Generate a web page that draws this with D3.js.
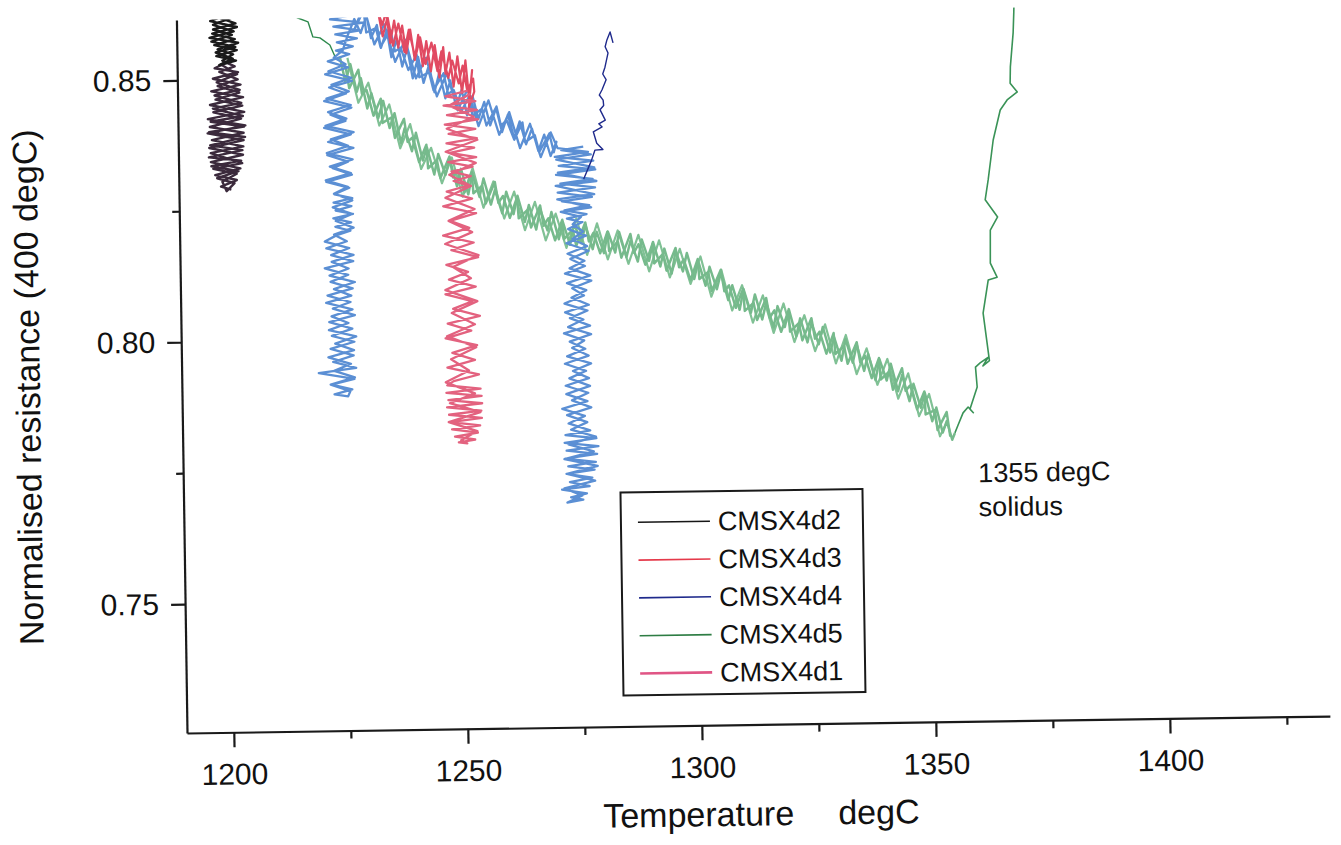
<!DOCTYPE html>
<html>
<head>
<meta charset="utf-8">
<script src="https://cdn.jsdelivr.net/npm/d3@7"></script>
<style>
body { margin: 0; background: #fff; }
svg text { font-family: "Liberation Sans", Arial, sans-serif; fill: #111; }
</style>
</head>
<body>
<script>
// Normalised resistance vs temperature, CMSX4 samples (scanned figure, read by eye)
// points are [temperature degC, normalised resistance]

// CMSX4d2 - hold near 1200
var d2Top = [[1197.5,0.8650],[1202.5,0.8630],[1197.2,0.8612],[1202.9,0.8600],[1197.6,0.8588],[1202.4,0.8577],
  [1198.0,0.8566],[1202.8,0.8556],[1198.4,0.8545],[1202.6,0.8536],[1199.0,0.8528],[1201.9,0.8540],[1198.3,0.8552],
  [1202.5,0.8562],[1197.4,0.8573],[1201.8,0.8585],[1197.8,0.8596],[1202.6,0.8607],[1198.6,0.8620],[1201.4,0.8632],
  [1201.8,0.8648],[1197.0,0.8638],[1203.0,0.8622],[1197.8,0.8605],[1202.2,0.8592],[1197.0,0.8580],[1203.1,0.8570],
  [1198.7,0.8558],[1202.0,0.8548],[1199.5,0.8535]];
var d2Body = [[1199.2,0.8530],[1202.8,0.8510],[1198.4,0.8495],[1203.3,0.8480],[1197.9,0.8470],[1203.6,0.8455],
  [1197.5,0.8445],[1203.9,0.8430],[1197.0,0.8420],[1204.1,0.8410],[1196.6,0.8400],[1204.3,0.8390],[1196.8,0.8375],
  [1203.7,0.8365],[1196.5,0.8352],[1203.4,0.8345],[1197.0,0.8335],[1202.8,0.8325],[1198.2,0.8312],[1201.9,0.8302],
  [1200.2,0.8287],[1199.3,0.8305],[1202.4,0.8320],[1197.4,0.8330],[1203.6,0.8340],[1196.9,0.8360],[1203.9,0.8372],
  [1197.2,0.8385],[1204.0,0.8398],[1196.8,0.8410],[1203.5,0.8425],[1197.6,0.8438],[1203.8,0.8450],[1198.1,0.8462],
  [1203.2,0.8475],[1198.6,0.8488],[1202.9,0.8500],[1199.0,0.8515],[1202.3,0.8525],[1200.0,0.8535],
  [1200.5,0.8532],[1198.0,0.8522],[1203.0,0.8514],[1197.6,0.8502],[1203.5,0.8490],[1197.2,0.8478],[1204.0,0.8466],
  [1196.9,0.8452],[1204.2,0.8438],[1196.4,0.8425],[1204.4,0.8412],[1196.3,0.8398],[1204.0,0.8384],[1196.6,0.8370],
  [1203.8,0.8356],[1196.9,0.8343],[1203.2,0.8330],[1197.8,0.8318],[1202.4,0.8308],[1199.0,0.8296],[1201.2,0.8290]];

// CMSX4d3 - heating branch into the 1250 hold
var d3Heat = [[1232.5,0.8640],[1234.0,0.8600],[1234.8,0.8625],[1235.6,0.8565],[1236.5,0.8608],[1237.3,0.8556],
  [1238.2,0.8598],[1239.0,0.8545],[1239.9,0.8590],[1240.8,0.8532],[1241.6,0.8580],[1242.5,0.8520],[1243.3,0.8568],
  [1244.2,0.8510],[1245.1,0.8560],[1246.0,0.8498],[1246.9,0.8556],[1247.3,0.8505],[1248.2,0.8545],[1249.0,0.8480],
  [1249.9,0.8538],[1250.8,0.8468],[1251.6,0.8530],[1252.3,0.8455],[1253.0,0.8511],[1252.2,0.8440],[1253.4,0.8470],
  [1253.2,0.8495],[1251.9,0.8472],[1251.0,0.8520],[1250.1,0.8486],[1248.8,0.8530],[1247.9,0.8497],[1246.5,0.8548],
  [1245.6,0.8510],[1244.4,0.8565],[1243.1,0.8524],[1242.0,0.8575],[1240.9,0.8536],[1239.6,0.8590],[1238.6,0.8548],
  [1237.4,0.8602],[1236.2,0.8560],[1235.1,0.8615],[1234.0,0.8578],[1233.0,0.8630]];

// CMSX4d1 - hold at 1250
var d1Hold = [[1252.0,0.8472],[1247.2,0.8462],[1253.6,0.8452],[1246.8,0.8444],[1253.9,0.8435],[1247.5,0.8426],
  [1254.1,0.8417],[1247.0,0.8408],[1253.5,0.8399],[1247.8,0.8390],[1253.8,0.8381],[1247.3,0.8372],[1253.2,0.8363],
  [1248.0,0.8354],[1253.6,0.8345],[1247.6,0.8336],[1252.8,0.8327],[1248.3,0.8318],[1252.4,0.8309],[1248.7,0.8300],
  [1251.8,0.8291],[1247.2,0.8280],[1252.6,0.8266],[1246.4,0.8252],[1253.4,0.8238],[1247.8,0.8224],[1251.9,0.8210],
  [1246.3,0.8196],[1252.8,0.8182],[1248.0,0.8168],[1253.7,0.8154],[1246.9,0.8140],[1251.5,0.8126],[1247.4,0.8112],
  [1253.1,0.8098],[1246.6,0.8084],[1252.3,0.8070],[1248.2,0.8056],[1253.9,0.8042],[1247.0,0.8028],[1252.0,0.8014],
  [1246.5,0.8000],[1253.2,0.7986],[1247.9,0.7972],[1252.7,0.7958],[1246.8,0.7944],[1253.5,0.7930],[1248.1,0.7918],
  [1246.7,0.7910],[1253.8,0.7903],[1246.5,0.7896],[1254.0,0.7889],[1246.9,0.7882],[1254.1,0.7875],[1246.6,0.7868],
  [1253.9,0.7861],[1247.0,0.7854],[1254.0,0.7847],[1247.3,0.7840],[1253.6,0.7833],[1247.6,0.7826],[1253.1,0.7819],
  [1248.2,0.7812],[1252.5,0.7806],[1249.0,0.7801],[1250.8,0.7799],
  [1249.5,0.7805],[1253.0,0.7822],[1246.9,0.7840],[1253.7,0.7858],[1247.2,0.7876],[1252.6,0.7894],[1246.4,0.7916],
  [1251.4,0.7938],[1247.6,0.7960],[1253.0,0.7982],[1246.8,0.8004],[1252.8,0.8026],[1247.9,0.8048],[1253.4,0.8070],
  [1246.6,0.8092],[1252.1,0.8114],[1248.3,0.8136],[1253.8,0.8158],[1246.7,0.8180],[1252.5,0.8202],[1247.5,0.8224],
  [1253.1,0.8246],[1246.9,0.8268],[1252.4,0.8290],[1247.8,0.8312],[1253.5,0.8334],[1247.1,0.8356],[1253.9,0.8378],
  [1247.4,0.8400],[1253.2,0.8422],[1248.0,0.8444],[1252.6,0.8466]];

// CMSX4d4 - hold near 1224, heating, hold near 1275, final heating
var d4HoldA = [[1223.0,0.8640],[1230.5,0.8625],[1222.8,0.8612],[1230.0,0.8605],[1223.5,0.8598],[1229.2,0.8590],
  [1223.9,0.8583],[1228.5,0.8575],[1224.2,0.8568],[1227.6,0.8560],[1224.0,0.8552],[1226.8,0.8545],
  [1222.2,0.8532],[1226.5,0.8520],[1221.6,0.8507],[1227.3,0.8494],[1222.4,0.8482],[1226.0,0.8470],[1221.3,0.8456],
  [1227.1,0.8443],[1222.6,0.8430],[1225.8,0.8418],[1221.2,0.8405],[1226.9,0.8392],[1222.0,0.8378],[1227.4,0.8366],
  [1221.8,0.8353],[1226.2,0.8340],[1222.9,0.8328],[1227.0,0.8315],[1221.5,0.8302],[1226.4,0.8290],
  [1223.2,0.8278],[1227.0,0.8270],[1223.0,0.8262],[1226.8,0.8255],[1223.4,0.8247],[1227.1,0.8240],[1222.9,0.8232],
  [1226.7,0.8224],[1223.3,0.8216],[1226.5,0.8208],[1223.6,0.8200],
  [1221.0,0.8188],[1226.2,0.8175],[1222.3,0.8162],[1227.0,0.8150],[1220.9,0.8137],[1225.9,0.8124],[1222.1,0.8111],
  [1226.8,0.8098],[1221.4,0.8085],[1226.3,0.8072],[1222.5,0.8060],[1227.2,0.8047],[1221.7,0.8034],[1226.6,0.8021],
  [1222.2,0.8008],[1227.0,0.7996],[1221.9,0.7983],[1226.8,0.7970],[1222.4,0.7958],[1227.3,0.7946],[1219.3,0.7937],
  [1226.9,0.7925],[1222.0,0.7915],[1226.4,0.7905],[1222.6,0.7896],[1225.5,0.7892],
  [1226.0,0.7902],[1221.8,0.7915],[1227.0,0.7928],[1222.6,0.7941],[1226.2,0.7954],[1221.4,0.7967],[1226.9,0.7980],
  [1222.9,0.7993],[1227.4,0.8006],[1221.6,0.8019],[1225.8,0.8032],[1222.2,0.8045],[1226.7,0.8058],[1221.1,0.8071],
  [1226.5,0.8084],[1222.8,0.8097],[1227.3,0.8110],[1221.9,0.8123],[1226.0,0.8136],[1222.4,0.8149],[1227.1,0.8162],
  [1221.3,0.8175],[1225.7,0.8188],[1223.0,0.8201],[1227.2,0.8214],[1223.4,0.8227],[1226.9,0.8240],[1222.8,0.8253],
  [1227.0,0.8266],[1223.1,0.8279],[1226.1,0.8292],[1221.4,0.8305],[1226.8,0.8318],[1222.3,0.8331],[1227.2,0.8344],
  [1221.7,0.8357],[1226.3,0.8370],[1222.6,0.8383],[1227.5,0.8396],[1221.5,0.8409],[1226.0,0.8422],[1222.1,0.8435],
  [1227.0,0.8448],[1221.8,0.8461],[1226.6,0.8474],[1222.9,0.8487],[1227.2,0.8500],[1222.3,0.8513],[1226.0,0.8526],
  [1223.5,0.8539],[1225.4,0.8552]];
var d4Heat = [[1226.5,0.8580],[1228.0,0.8612],[1229.3,0.8585],[1230.6,0.8618],[1231.5,0.8575],[1232.8,0.8600],
  [1233.6,0.8556],[1234.9,0.8590],[1235.8,0.8538],[1237.0,0.8572],[1238.1,0.8520],[1239.2,0.8556],[1240.3,0.8497],
  [1241.5,0.8538],[1242.6,0.8488],[1243.8,0.8522],[1244.9,0.8470],[1246.0,0.8508],[1247.2,0.8458],[1248.3,0.8492],
  [1249.5,0.8440],[1250.7,0.8474],[1251.8,0.8425],[1253.0,0.8462],[1254.2,0.8418],[1255.5,0.8450],[1256.7,0.8405],
  [1258.0,0.8438],[1259.2,0.8392],[1260.5,0.8425],[1261.8,0.8380],[1263.0,0.8412],[1264.3,0.8368],[1265.6,0.8398],
  [1266.9,0.8355],[1268.2,0.8386],[1269.5,0.8345],[1270.8,0.8372],
  [1270.2,0.8352],[1269.3,0.8388],[1267.1,0.8353],[1266.2,0.8385],[1264.1,0.8372],[1263.6,0.8410],[1261.8,0.8377],
  [1260.2,0.8415],[1259.0,0.8404],[1258.1,0.8441],[1255.9,0.8405],[1255.0,0.8437],[1252.9,0.8424],[1252.4,0.8463],
  [1250.6,0.8433],[1249.0,0.8474],[1247.8,0.8466],[1246.9,0.8506],[1244.7,0.8474],[1243.8,0.8508],[1241.7,0.8499],
  [1241.2,0.8542],[1239.4,0.8513],[1237.8,0.8556],[1236.6,0.8549],[1235.7,0.8590],[1233.5,0.8558],[1232.6,0.8594],
  [1230.5,0.8586],[1230.0,0.8628],[1228.2,0.8596],
  [1228.0,0.8592],[1230.0,0.8637],[1232.2,0.8563],[1234.4,0.8601],[1236.6,0.8529],[1238.8,0.8571],[1241.0,0.8497],
  [1243.2,0.8536],[1245.4,0.8462],[1247.6,0.8506],[1249.8,0.8435],[1252.0,0.8475],[1254.2,0.8404],[1256.4,0.8453],
  [1258.6,0.8387],[1260.8,0.8430],[1263.0,0.8361],[1265.2,0.8407],[1267.4,0.8343],[1269.6,0.8390]];
var d4HoldB = [[1271.0,0.8360],[1277.5,0.8352],[1270.4,0.8343],[1278.6,0.8335],[1271.2,0.8326],[1279.0,0.8318],
  [1270.6,0.8309],[1278.4,0.8300],[1271.5,0.8292],[1278.9,0.8284],[1270.9,0.8275],[1278.2,0.8266],[1271.8,0.8258],
  [1277.6,0.8250],[1272.3,0.8241],[1277.0,0.8233],[1272.8,0.8225],[1276.1,0.8218],
  [1273.0,0.8205],[1276.8,0.8192],[1272.6,0.8178],[1277.3,0.8163],[1273.4,0.8148],[1276.5,0.8134],[1272.2,0.8120],
  [1277.8,0.8106],[1273.7,0.8092],[1276.2,0.8078],[1272.0,0.8063],[1276.9,0.8049],[1273.1,0.8035],[1277.4,0.8020],
  [1271.8,0.8006],[1276.1,0.7992],[1273.5,0.7978],[1277.0,0.7963],[1271.9,0.7948],[1276.4,0.7934],[1272.8,0.7920],
  [1277.2,0.7905],[1272.1,0.7890],[1276.6,0.7876],[1271.2,0.7862],[1276.0,0.7848],[1272.5,0.7834],[1277.1,0.7820],
  [1271.8,0.7812],[1278.4,0.7805],[1271.6,0.7797],[1278.8,0.7790],[1272.0,0.7782],[1278.5,0.7775],[1271.7,0.7767],
  [1278.2,0.7760],[1272.3,0.7752],[1277.9,0.7745],[1271.9,0.7738],[1277.4,0.7730],[1272.6,0.7722],[1276.8,0.7714],
  [1270.9,0.7708],[1276.2,0.7700],[1272.8,0.7693],[1275.4,0.7688],[1272.0,0.7683],
  [1275.2,0.7696],[1271.4,0.7710],[1278.0,0.7724],[1272.0,0.7738],[1278.6,0.7752],[1271.5,0.7766],[1277.8,0.7780],
  [1272.4,0.7794],[1278.3,0.7808],[1273.0,0.7822],[1276.5,0.7836],[1272.2,0.7850],[1277.4,0.7864],[1273.3,0.7878],
  [1276.8,0.7892],[1272.0,0.7906],[1277.0,0.7920],[1273.6,0.7934],[1277.5,0.7948],[1272.4,0.7962],[1276.3,0.7976],
  [1273.0,0.7990],[1277.6,0.8004],[1272.7,0.8018],[1276.0,0.8032],[1272.1,0.8046],[1277.2,0.8060],[1273.5,0.8074],
  [1276.7,0.8088],[1272.6,0.8102],[1277.6,0.8116],[1273.2,0.8130],[1276.4,0.8144],[1272.8,0.8158],[1277.0,0.8172],
  [1273.9,0.8186],[1276.2,0.8200],[1274.0,0.8214],[1275.8,0.8228],
  [1271.5,0.8238],[1278.0,0.8246],[1270.8,0.8262],[1278.7,0.8271],[1270.5,0.8288],[1279.2,0.8296],[1271.0,0.8313],
  [1278.8,0.8322],[1270.7,0.8338],[1278.1,0.8347],[1271.8,0.8356],[1276.5,0.8362]];
var d4Tail = [[1276.5,0.8300],[1278.2,0.8335],[1279.0,0.8355],[1280.7,0.8356],[1279.4,0.8368],[1278.7,0.8390],
  [1280.6,0.8399],[1279.9,0.8405],[1281.3,0.8412],[1280.2,0.8432],[1281.0,0.8440],[1280.9,0.8450],[1280.1,0.8460],
  [1280.7,0.8470],[1281.6,0.8489],[1280.9,0.8500],[1281.4,0.8513],[1282.1,0.8540],[1281.5,0.8552],[1281.9,0.8565],
  [1282.6,0.8580],[1283.2,0.8559]];

// CMSX4d5 - continuous heating to the solidus and beyond
var d5Start = [[1214.3,0.8628],[1215.8,0.8616],[1218.1,0.8608],[1219.1,0.8579],[1220.6,0.8577],[1222.7,0.8563],
  [1223.8,0.8540]];
var d5Band = [[1224.8,0.8540],[1225.9,0.8492],[1227.0,0.8526],[1228.3,0.8473],[1229.2,0.8499],[1230.5,0.8441],
  [1231.4,0.8470],[1232.8,0.8422],[1233.9,0.8455],[1235.2,0.8403],[1236.3,0.8431],[1237.6,0.8374],[1238.4,0.8402],
  [1239.9,0.8358],[1240.8,0.8393],[1242.2,0.8340],[1243.1,0.8365],[1244.6,0.8313],[1245.5,0.8352],[1247.0,0.8312],
  [1247.9,0.8343],[1249.4,0.8290],[1250.3,0.8323],[1251.8,0.8274],[1252.7,0.8313],[1254.2,0.8269],[1255.1,0.8304],
  [1256.6,0.8254],[1257.5,0.8282],[1259.0,0.8237],[1259.9,0.8278],[1261.4,0.8235],[1262.3,0.8270],[1263.8,0.8220],
  [1264.7,0.8252],[1266.2,0.8205],[1267.1,0.8244],[1268.6,0.8203],[1269.5,0.8238],[1271.0,0.8186],[1271.9,0.8219],
  [1273.4,0.8175],[1274.3,0.8216],[1275.8,0.8178],[1276.7,0.8213],[1278.2,0.8166],[1279.1,0.8199],[1280.6,0.8158],
  [1281.5,0.8199],[1283.0,0.8159],[1283.9,0.8198],[1285.4,0.8150],[1286.3,0.8181],[1287.8,0.8141],[1288.7,0.8183],
  [1290.2,0.8142],[1291.1,0.8178],[1292.6,0.8131],[1293.5,0.8165],[1295.0,0.8117],[1295.9,0.8160],[1297.4,0.8121],
  [1298.3,0.8156],[1299.8,0.8106],[1300.7,0.8140],[1302.2,0.8093],[1303.1,0.8129],[1304.6,0.8086],[1305.5,0.8117],
  [1307.0,0.8065],[1307.9,0.8093],[1309.4,0.8046],[1310.3,0.8085],[1311.8,0.8040],[1312.7,0.8075],[1314.2,0.8027],
  [1315.1,0.8059],[1316.6,0.8011],[1317.5,0.8052],[1319.0,0.8012],[1319.9,0.8046],[1321.4,0.7994],[1322.3,0.8028],
  [1323.8,0.7982],[1324.7,0.8019],[1326.2,0.7978],[1327.1,0.8011],[1328.6,0.7962],[1329.5,0.7991],[1331.0,0.7946],
  [1331.9,0.7987],[1333.4,0.7942],[1334.3,0.7976],[1335.8,0.7926],[1336.7,0.7958],[1338.2,0.7908],[1339.1,0.7948],
  [1340.6,0.7907],[1341.5,0.7939],[1343.0,0.7886],[1343.9,0.7917],[1345.4,0.7867],[1346.3,0.7900],[1347.8,0.7854],
  [1348.7,0.7882],[1350.2,0.7828],[1351.1,0.7854],[1352.4,0.7806],[1353.3,0.7828],[1354.4,0.7792],[1355.0,0.7805]];
var d5Band2 = [[1354.0,0.7798],[1353.3,0.7845],[1351.3,0.7811],[1350.8,0.7849],[1348.8,0.7841],[1348.6,0.7885],
  [1347.0,0.7851],[1345.6,0.7897],[1344.6,0.7887],[1343.9,0.7930],[1341.9,0.7889],[1341.2,0.7924],[1339.3,0.7909],
  [1339.0,0.7950],[1337.4,0.7912],[1336.0,0.7955],[1335.0,0.7942],[1334.3,0.7981],[1332.3,0.7940],[1331.6,0.7974],
  [1329.7,0.7959],[1329.4,0.7999],[1327.8,0.7960],[1326.4,0.8002],[1325.4,0.7989],[1324.7,0.8028],[1322.7,0.7986],
  [1322.0,0.8019],[1320.1,0.8003],[1319.8,0.8042],[1318.2,0.8003],[1316.8,0.8044],[1315.8,0.8030],[1315.1,0.8068],
  [1313.1,0.8026],[1312.4,0.8059],[1310.5,0.8044],[1310.2,0.8086],[1308.6,0.8050],[1307.2,0.8093],[1306.2,0.8082],
  [1305.5,0.8123],[1303.5,0.8083],[1302.8,0.8119],[1300.9,0.8106],[1300.6,0.8144],[1299.0,0.8104],[1297.6,0.8144],
  [1296.6,0.8129],[1295.9,0.8166],[1293.9,0.8123],[1293.2,0.8155],[1291.3,0.8137],[1291.0,0.8175],[1289.4,0.8135],
  [1288.0,0.8174],[1287.0,0.8158],[1286.3,0.8194],[1284.3,0.8149],[1283.6,0.8180],[1281.7,0.8162],[1281.4,0.8199],
  [1279.8,0.8158],[1278.4,0.8197],[1277.4,0.8181],[1276.7,0.8217],[1274.7,0.8173],[1274.0,0.8204],[1272.1,0.8186],
  [1271.8,0.8223],[1270.2,0.8184],[1268.8,0.8226],[1267.8,0.8212],[1267.1,0.8251],[1265.1,0.8209],[1264.4,0.8243],
  [1262.5,0.8227],[1262.2,0.8267],[1260.6,0.8228],[1259.2,0.8270],[1258.2,0.8257],[1257.5,0.8297],[1255.5,0.8256],
  [1254.8,0.8290],[1252.9,0.8276],[1252.6,0.8316],[1251.0,0.8278],[1249.6,0.8320],[1248.6,0.8307],[1247.9,0.8347],
  [1245.9,0.8306],[1245.2,0.8340],[1243.3,0.8325],[1243.0,0.8370],[1241.4,0.8337],[1240.0,0.8384],[1239.0,0.8376],
  [1238.3,0.8420],[1236.3,0.8384],[1235.6,0.8423],[1233.7,0.8413],[1233.4,0.8459],[1231.8,0.8427],[1230.4,0.8476],
  [1229.4,0.8469],[1228.7,0.8515],[1226.7,0.8480],[1226.0,0.8521]];
var d5Band3 = [[1226.4,0.8538],[1228.6,0.8452],[1230.8,0.8490],[1233.0,0.8408],[1235.2,0.8448],[1237.4,0.8364],
  [1239.6,0.8410],[1241.8,0.8324],[1244.0,0.8364],[1246.2,0.8296],[1248.4,0.8345],[1250.6,0.8270],[1252.8,0.8324],
  [1255.0,0.8248],[1257.2,0.8298],[1259.4,0.8227],[1261.6,0.8278],[1263.8,0.8204],[1266.0,0.8258],[1268.2,0.8184],
  [1270.4,0.8235],[1272.6,0.8169],[1274.8,0.8225],[1277.0,0.8155],[1279.2,0.8215],[1281.4,0.8146],[1283.6,0.8201],
  [1285.8,0.8137],[1288.0,0.8192],[1290.2,0.8122],[1292.4,0.8181],[1294.6,0.8110],[1296.8,0.8164],[1299.0,0.8097],
  [1301.2,0.8149],[1303.4,0.8072],[1305.6,0.8123],[1307.8,0.8045],[1310.0,0.8093],[1312.2,0.8021],[1314.4,0.8073],
  [1316.6,0.8001],[1318.8,0.8057],[1321.0,0.7983],[1323.2,0.8034],[1325.4,0.7965],[1327.6,0.8016],[1329.8,0.7941],
  [1332.0,0.7995],[1334.2,0.7920],[1336.4,0.7969],[1338.6,0.7899],[1340.8,0.7948],[1343.0,0.7872],[1345.2,0.7920],
  [1347.4,0.7838],[1349.6,0.7880],[1351.8,0.7799],[1353.6,0.7831]];
var d5Tail = [[1355.0,0.7805],[1355.7,0.7820],[1356.8,0.7843],[1357.9,0.7854],[1359.0,0.7843],[1358.3,0.7850],
  [1359.9,0.7892],[1359.6,0.7930],[1360.6,0.7938],[1362.3,0.7948],[1361.2,0.7932],[1362.6,0.7942],[1361.4,0.8033],
  [1362.6,0.8096],[1364.5,0.8101],[1363.1,0.8128],[1363.2,0.8191],[1364.8,0.8216],[1362.2,0.8249],[1362.9,0.8287],
  [1364.1,0.8363],[1365.7,0.8420],[1367.2,0.8439],[1369.4,0.8454],[1367.9,0.8471],[1368.0,0.8502],[1368.7,0.8567],
  [1368.9,0.8605],[1369.0,0.8630]];

// axis ticks and labels
var xMajor = [1200, 1250, 1300, 1350, 1400];
var xMinor = [1225, 1275, 1325, 1375, 1425];
var yMajor = [0.75, 0.80, 0.85];
var yMinor = [0.775, 0.825];
var legendNames = ['CMSX4d2', 'CMSX4d3', 'CMSX4d4', 'CMSX4d5', 'CMSX4d1'];
var legendColors = ['#161616', '#e5394a', '#1f2a8c', '#2e7d44', '#e05585'];

var width = 1341, height = 845;

var svg = d3.select('body').append('svg')
    .attr('width', width)
    .attr('height', height);

// the scanned figure is slightly tilted
var g = svg.append('g').attr('transform', 'rotate(-0.85,187,733)');

var x = d3.scaleLinear().domain([1190, 1434.2]).range([187, 1330]);
var y = d3.scaleLinear().domain([0.7254, 0.8615]).range([733, 20]);

svg.append('defs').append('clipPath').attr('id', 'plotClip')
  .append('rect').attr('x', 187).attr('y', 20).attr('width', 1143).attr('height', 713);

var line = d3.line()
    .x(function(d) { return x(d[0]); })
    .y(function(d) { return y(d[1]); });

// traces, back to front
var traces = [
  {data: d5Start, color: '#2e8a4d', w: 1.4},
  {data: d5Band3, color: '#80c195', w: 2.2},
  {data: d5Band, color: '#76ba8c', w: 2.5},
  {data: d5Band2, color: '#76ba8c', w: 2.5},
  {data: d5Tail, color: '#3a9357', w: 1.6},
  {data: d4HoldA.concat(d4Heat, d4HoldB), color: '#5b8fd4', w: 2.3},
  {data: d4Tail, color: '#1f2a8c', w: 1.4},
  {data: d3Heat, color: '#e14a62', w: 2.2},
  {data: d1Hold, color: '#e3627f', w: 2.3},
  {data: d2Body, color: '#3b2a3c', w: 2.4},
  {data: d2Top, color: '#1a1a1a', w: 2.4}
];

var plot = g.append('g').attr('clip-path', 'url(#plotClip)');
traces.forEach(function(t) {
  plot.append('path')
    .datum(t.data)
    .attr('d', line)
    .attr('fill', 'none')
    .attr('stroke', t.color)
    .attr('stroke-width', t.w)
    .attr('stroke-linejoin', 'round');
});

// axes
var axisFont = '"Liberation Sans", Arial, sans-serif';

var yAx = g.append('g')
    .attr('transform', 'translate(187,0)')
    .call(d3.axisLeft(y).tickValues(yMajor).tickFormat(d3.format('.2f'))
      .tickSize(14).tickPadding(12).tickSizeOuter(0));
g.append('g')
    .attr('transform', 'translate(187,0)')
    .call(d3.axisLeft(y).tickValues(yMinor).tickFormat('').tickSize(7))
    .select('.domain').remove();

var xAx = g.append('g')
    .attr('transform', 'translate(0,733)')
    .call(d3.axisBottom(x).tickValues(xMajor).tickFormat(d3.format('d'))
      .tickSize(15).tickPadding(16).tickSizeOuter(0));
g.append('g')
    .attr('transform', 'translate(0,733)')
    .call(d3.axisBottom(x).tickValues(xMinor).tickFormat('').tickSize(8))
    .select('.domain').remove();

g.selectAll('.domain, .tick line').attr('stroke', '#1a1a1a').attr('stroke-width', 2.2);
yAx.selectAll('text').attr('font-size', 30).attr('font-family', axisFont);
xAx.selectAll('text').attr('font-size', 30).attr('font-family', axisFont);

// axis titles
g.append('text')
    .attr('transform', 'translate(45,385) rotate(-90)')
    .attr('text-anchor', 'middle')
    .attr('font-size', 34)
    .text('Normalised resistance (400 degC)');
g.append('text').attr('x', 602).attr('y', 834).attr('font-size', 34).text('Temperature');
g.append('text').attr('x', 837).attr('y', 834).attr('font-size', 34).text('degC');

// solidus note
g.append('text').attr('x', 982).attr('y', 494).attr('font-size', 27).text('1355 degC');
g.append('text').attr('x', 982).attr('y', 528).attr('font-size', 27).text('solidus');

// legend
var leg = g.append('g');
leg.append('rect')
    .attr('x', 624).attr('y', 499).attr('width', 242).attr('height', 203)
    .attr('fill', '#fff').attr('stroke', '#1a1a1a').attr('stroke-width', 2);
legendNames.forEach(function(name, i) {
  var ly = 529 + i * 37.8;
  leg.append('line')
    .attr('x1', 641).attr('x2', 713).attr('y1', ly).attr('y2', ly)
    .attr('stroke', legendColors[i]).attr('stroke-width', i === 4 ? 2.6 : 1.6);
  leg.append('text')
    .attr('x', 721).attr('y', ly + 9.5)
    .attr('font-size', 27)
    .text(name);
});
</script>
</body>
</html>
